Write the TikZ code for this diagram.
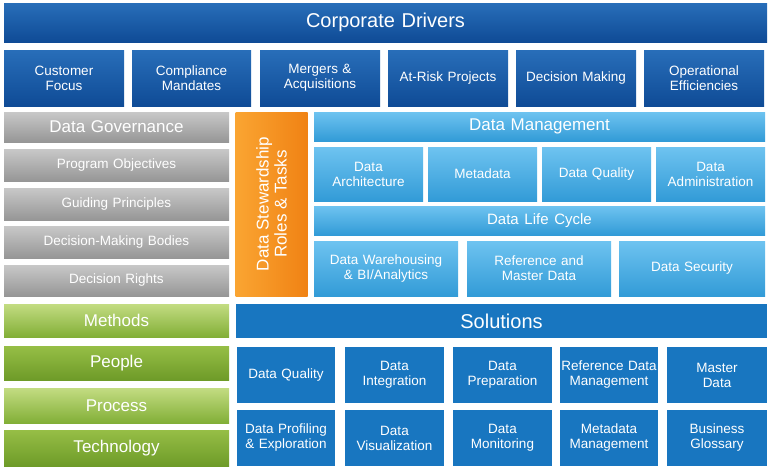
\documentclass[tikz,border=0pt]{standalone}
\usepackage{fontspec}
\setmainfont{Liberation Sans}
\definecolor{dkt}{RGB}{40,110,185}
\definecolor{dkb}{RGB}{15,75,150}
\definecolor{lbt}{RGB}{110,195,240}
\definecolor{lbb}{RGB}{50,155,215}
\definecolor{grt}{RGB}{200,200,200}
\definecolor{grb}{RGB}{150,150,150}
\definecolor{gnt}{RGB}{150,190,70}
\definecolor{gnb}{RGB}{110,155,40}
\definecolor{glt}{RGB}{195,220,130}
\definecolor{glb}{RGB}{130,175,55}
\definecolor{solc}{RGB}{24,118,192}
\definecolor{ort}{RGB}{250,165,50}
\definecolor{orb}{RGB}{240,130,20}
\begin{document}
\begin{tikzpicture}[x=1pt,y=-1pt,
 base/.style={draw=none,inner sep=0pt,align=center,text=white,font=\fontsize{13.5}{15}\selectfont},
 dark/.style={base,top color=dkt,bottom color=dkb},
 drv/.style={dark},
 hdr/.style={dark,font=\fontsize{20}{22}\selectfont},
 lb/.style={base,top color=lbt,bottom color=lbb},
 lbh/.style={lb,font=\fontsize{17}{19}\selectfont},
 gr/.style={base,top color=grt,bottom color=grb},
 grh/.style={gr,font=\fontsize{17}{19}\selectfont},
 gn/.style={base,top color=gnt,bottom color=gnb,font=\fontsize{17}{19}\selectfont},
 gnl/.style={base,top color=glt,bottom color=glb,font=\fontsize{17}{19}\selectfont},
 sol/.style={base,fill=solc},
 solh/.style={sol,font=\fontsize{20}{22}\selectfont},
 org/.style={base,left color=ort,right color=orb}]
\newcommand\bx[7]{\node[#6,minimum width={(#4-#2)*1pt},minimum height={(#5-#3)*1pt},text width={(#4-#2)*1pt}] (#1) at ({(#2+#4)/2},{(#3+#5)/2}) {#7};}
\useasboundingbox (0,0) rectangle (771,471);
\bx{cd}{4}{3}{767}{42}{hdr}{Corporate Drivers}
\bx{d1}{4}{50}{124}{106}{drv}{Customer\\Focus}
\bx{d2}{132}{50}{251}{106}{drv}{Compliance\\Mandates}
\bx{d3}{260}{50}{380}{106}{drv}{Mergers \&\\Acquisitions}
\bx{d4}{388}{50}{508}{106}{drv}{At-Risk Projects}
\bx{d5}{516}{50}{636}{106}{drv}{Decision Making}
\bx{d6}{644}{50}{764}{106}{drv}{Operational\\Efficiencies}
\bx{dg}{4}{112}{229}{142}{grh}{Data Governance}
\bx{g1}{4}{149}{229}{181}{gr}{Program Objectives}
\bx{g2}{4}{188}{229}{220}{gr}{Guiding Principles}
\bx{g3}{4}{226}{229}{258}{gr}{Decision-Making Bodies}
\bx{g4}{4}{265}{229}{296}{gr}{Decision Rights}
\node[org,minimum width=72pt,minimum height=184pt] (ds) at (271.5,204) {};
\node[font=\fontsize{17}{18}\selectfont,text=white,align=center,rotate=90] (dst) at (ds.center) {Data Stewardship\\Roles \& Tasks};
\bx{dm}{314}{112}{765}{141}{lbh}{Data Management}
\bx{m1}{314}{147}{423}{201}{lb}{Data\\Architecture}
\bx{m2}{428}{147}{537}{201}{lb}{Metadata}
\bx{m3}{542}{147}{651}{201}{lb}{Data Quality}
\bx{m4}{656}{147}{765}{201}{lb}{Data\\Administration}
\bx{lc}{314}{206}{765}{235}{lbh}{\fontsize{15}{17}\selectfont Data Life Cycle}
\bx{l1}{314}{241}{458}{296}{lb}{Data Warehousing\\\& BI/Analytics}
\bx{l2}{467}{241}{611}{296}{lb}{Reference and\\Master Data}
\bx{l3}{619}{241}{765}{296}{lb}{Data Security}
\bx{me}{4}{304}{229}{337}{gnl}{Methods}
\bx{so}{236}{304}{767}{338}{solh}{Solutions}
\bx{pe}{4}{346}{229}{380}{gn}{People}
\bx{pr}{4}{388}{229}{423}{gnl}{Process}
\bx{te}{4}{430}{229}{466}{gn}{Technology}
\bx{s1}{237}{347}{335}{403}{sol}{Data Quality}
\bx{s2}{345}{347}{444}{403}{sol}{Data\\Integration}
\bx{s3}{453}{347}{552}{403}{sol}{Data\\Preparation}
\bx{s4}{560}{347}{658}{403}{sol}{Reference Data\\Management}
\bx{s5}{667}{347}{767}{403}{sol}{Master\\Data}
\bx{t1}{237}{410}{335}{466}{sol}{Data Profiling\\\& Exploration}
\bx{t2}{345}{410}{444}{466}{sol}{Data\\Visualization}
\bx{t3}{453}{410}{552}{466}{sol}{Data\\Monitoring}
\bx{t4}{560}{410}{658}{466}{sol}{Metadata\\Management}
\bx{t5}{667}{410}{767}{466}{sol}{Business\\Glossary}
\end{tikzpicture}
\end{document}
